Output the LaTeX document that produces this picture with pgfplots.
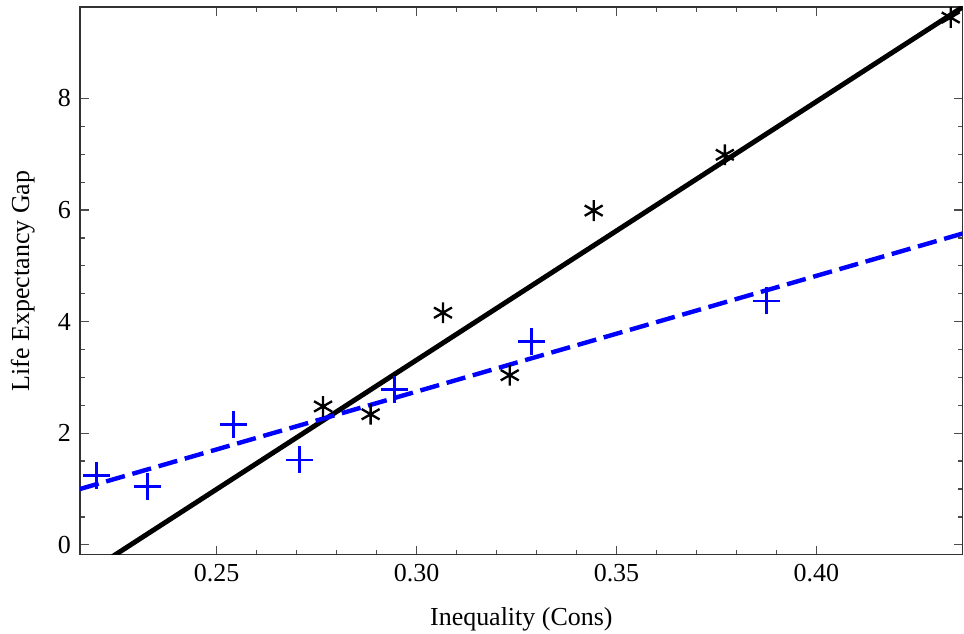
\documentclass[border=0pt]{standalone}
\usepackage{fontspec}
\setmainfont{Liberation Serif}
\usepackage{pgfplots}
\pgfplotsset{compat=1.18}
\begin{document}
\begin{tikzpicture}
\begin{axis}[
  name=ax,
  scale only axis,
  width=340pt, height=211pt,
  xmin=0.2158, xmax=0.4366,
  ymin=-0.18, ymax=9.64,
  xtick={0.25,0.30,0.35,0.40},
  xticklabels={0.25,0.30,0.35,0.40},
  ytick={0,2,4,6,8},
  minor x tick num=4,
  minor y tick num=3,
  major tick length=3.5pt,
  minor tick length=2pt,
  tick align=inside,
  tick style={black!70, line width=0.5pt},
  axis line style={black!80, line width=0.5pt},
  /pgf/number format/assume math mode=true,
  xlabel={Inequality (Cons)},
  ylabel={Life Expectancy Gap},
  xlabel style={yshift=-3pt},
  ylabel style={yshift=2pt},
  clip=true,
]
% fitted lines
\addplot[black, line width=1.9pt] coordinates {(0.2200,-0.393) (0.4400,9.797)};
\addplot[blue, line width=1.7pt, dash pattern=on 7.5pt off 3pt] coordinates {(0.2158,1.00) (0.4366,5.58)};
% black asterisks
\addplot[only marks, mark=asterisk, mark size=4pt, mark options={black, line width=0.9pt}] coordinates {
(0.2766,2.48) (0.2885,2.34) (0.3066,4.16) (0.3233,3.04) (0.3443,5.99) (0.3771,6.99) (0.4336,9.45)
};
% blue plus
\addplot[only marks, mark=+, mark size=5.2pt, mark options={blue, line width=1.15pt}] coordinates {
(0.2200,1.25) (0.2328,1.04) (0.2542,2.16) (0.2707,1.52) (0.2944,2.79) (0.3288,3.65) (0.3875,4.37)
};
\end{axis}
\pgfresetboundingbox
\path (ax.south west) ++(-30.8pt,-30.4pt) coordinate (bbA);
\path (ax.north east) ++(0.5pt,2.7pt) coordinate (bbB);
\useasboundingbox (bbA) rectangle (bbB);
\end{tikzpicture}
\end{document}
